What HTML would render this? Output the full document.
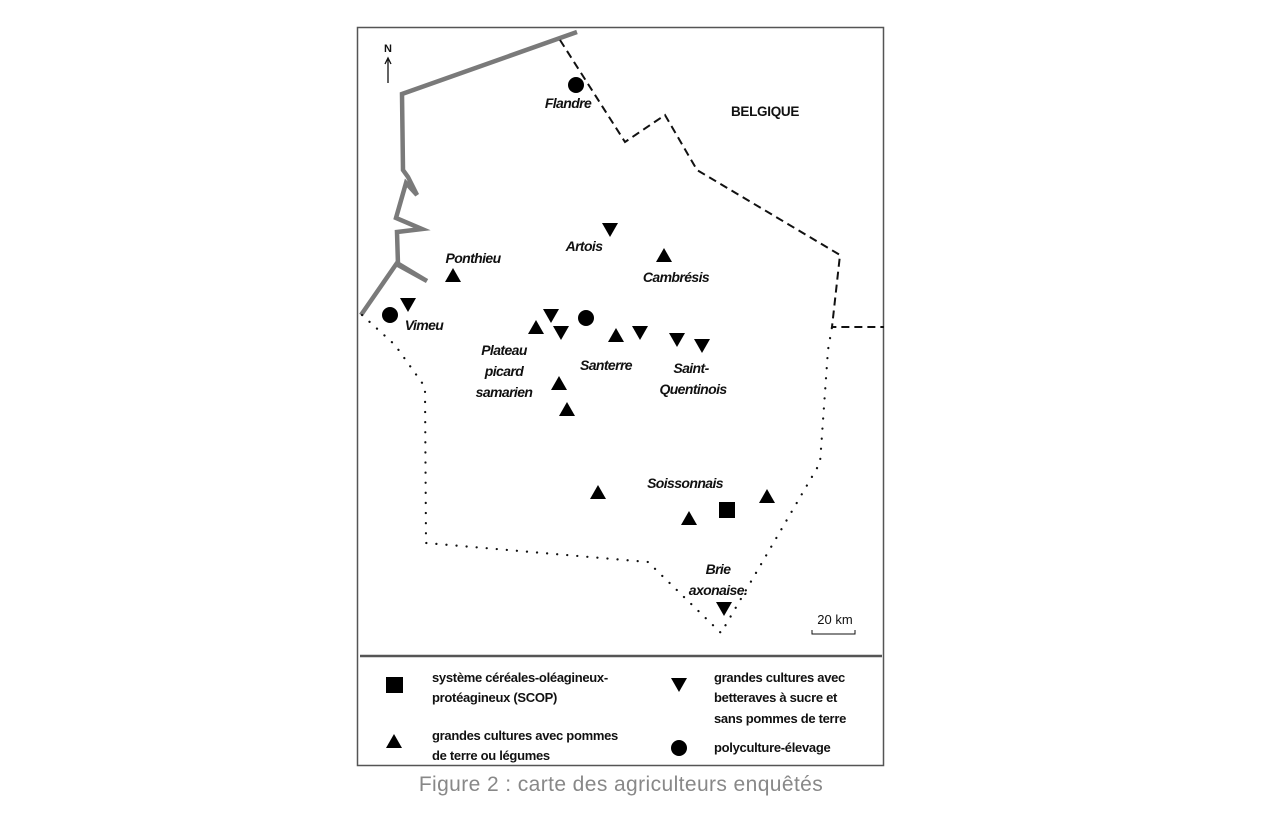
<!DOCTYPE html>
<html><head><meta charset="utf-8"><style>
body{margin:0;background:#fff;}
svg{display:block}
.t{font-family:"Liberation Sans",sans-serif;font-weight:bold;font-style:italic;font-size:14px;letter-spacing:-0.6px;fill:#111}
.l{font-family:"Liberation Sans",sans-serif;font-weight:bold;font-size:13px;letter-spacing:-0.3px;fill:#111}
</style></head><body>
<svg width="1280" height="816" viewBox="0 0 1280 816">
<defs>
<path id="up" d="M0,-8 L8,6 L-8,6 Z" fill="#000"/>
<path id="dn" d="M-8,-6 L8,-6 L0,8 Z" fill="#000"/>
</defs>
<rect x="357.5" y="27.5" width="526" height="738" fill="#fff" stroke="#555" stroke-width="1.5"/>
<!-- coast -->
<polyline points="577,32 402,94 403,170 408,177 417,195 406,183 396,218 422,229 397,232 398,265 427,281 397,263 361,315" fill="none" stroke="#7a7a7a" stroke-width="4.5" stroke-linejoin="miter"/>
<!-- dashed border -->
<polyline points="560,40 625,142 665,115 697,170 840,255 832,327 884,327" fill="none" stroke="#111" stroke-width="2" stroke-dasharray="8,5"/>
<!-- dotted border -->
<polyline points="362,315 395,345 425,387 426,543 648,562 721,633 820,463 828,350 832,327" fill="none" stroke="#111" stroke-width="2.2" stroke-dasharray="0.1,10" stroke-linecap="round"/>
<!-- north arrow -->
<text x="384" y="52" class="l" style="font-size:11px">N</text>
<line x1="388" y1="59" x2="388" y2="83" stroke="#111" stroke-width="1.3"/>
<path d="M385,64 L388,58 L391,64" fill="none" stroke="#111" stroke-width="1.3"/>
<circle cx="576" cy="85" r="8"/>
<text x="568" y="108" class="t" text-anchor="middle">Flandre</text>
<text x="765" y="116" class="l" text-anchor="middle" style="font-size:13.5px">BELGIQUE</text>
<use href="#dn" x="610" y="229"/>
<text x="584" y="251" class="t" text-anchor="middle">Artois</text>
<use href="#up" x="664" y="256"/>
<text x="676" y="282" class="t" text-anchor="middle">Cambrésis</text>
<text x="473" y="263" class="t" text-anchor="middle">Ponthieu</text>
<use href="#up" x="453" y="276"/>
<use href="#dn" x="408" y="304"/>
<circle cx="390" cy="315" r="8"/>
<text x="424" y="330" class="t" text-anchor="middle">Vimeu</text>
<use href="#up" x="536" y="328"/>
<use href="#dn" x="551" y="315"/>
<use href="#dn" x="561" y="332"/>
<circle cx="586" cy="318" r="8"/>
<use href="#up" x="616" y="336"/>
<use href="#dn" x="640" y="332"/>
<use href="#dn" x="677" y="339"/>
<use href="#dn" x="702" y="345"/>
<text x="504" y="355" class="t" text-anchor="middle">Plateau</text>
<text x="504" y="376" class="t" text-anchor="middle">picard</text>
<text x="504" y="397" class="t" text-anchor="middle">samarien</text>
<text x="606" y="370" class="t" text-anchor="middle">Santerre</text>
<text x="691" y="373" class="t" text-anchor="middle">Saint-</text>
<text x="693" y="394" class="t" text-anchor="middle">Quentinois</text>
<use href="#up" x="559" y="384"/>
<use href="#up" x="567" y="410"/>
<text x="685" y="488" class="t" text-anchor="middle">Soissonnais</text>
<use href="#up" x="598" y="493"/>
<use href="#up" x="689" y="519"/>
<rect x="719" y="502" width="16" height="16"/>
<use href="#up" x="767" y="497"/>
<text x="718" y="574" class="t" text-anchor="middle">Brie</text>
<text x="718" y="595" class="t" text-anchor="middle">axonaise.</text>
<use href="#dn" x="724" y="608"/>
<text x="835" y="624" class="l" text-anchor="middle" style="font-weight:normal;font-size:13px;letter-spacing:0">20 km</text>
<path d="M812,630 L812,634 L855,634 L855,630" fill="none" stroke="#111" stroke-width="1"/>
<!-- legend -->
<line x1="360" y1="656" x2="882" y2="656" stroke="#555" stroke-width="2.5"/>
<rect x="386" y="677" width="17" height="16"/>
<text x="432" y="682" class="l">système céréales-oléagineux-</text>
<text x="432" y="702" class="l">protéagineux (SCOP)</text>
<use href="#dn" x="679" y="684"/>
<text x="714" y="682" class="l">grandes cultures avec</text>
<text x="714" y="702" class="l">betteraves à sucre et</text>
<text x="714" y="723" class="l">sans pommes de terre</text>
<use href="#up" x="394" y="742"/>
<text x="432" y="740" class="l">grandes cultures avec pommes</text>
<text x="432" y="760" class="l">de terre ou légumes</text>
<circle cx="679" cy="748" r="8"/>
<text x="714" y="752" class="l">polyculture-élevage</text>
<text x="621" y="791" text-anchor="middle" style="font-family:'Liberation Sans',sans-serif;font-size:21px;letter-spacing:0.4px;fill:#888">Figure 2 : carte des agriculteurs enquêtés</text>
</svg>
</body></html>
